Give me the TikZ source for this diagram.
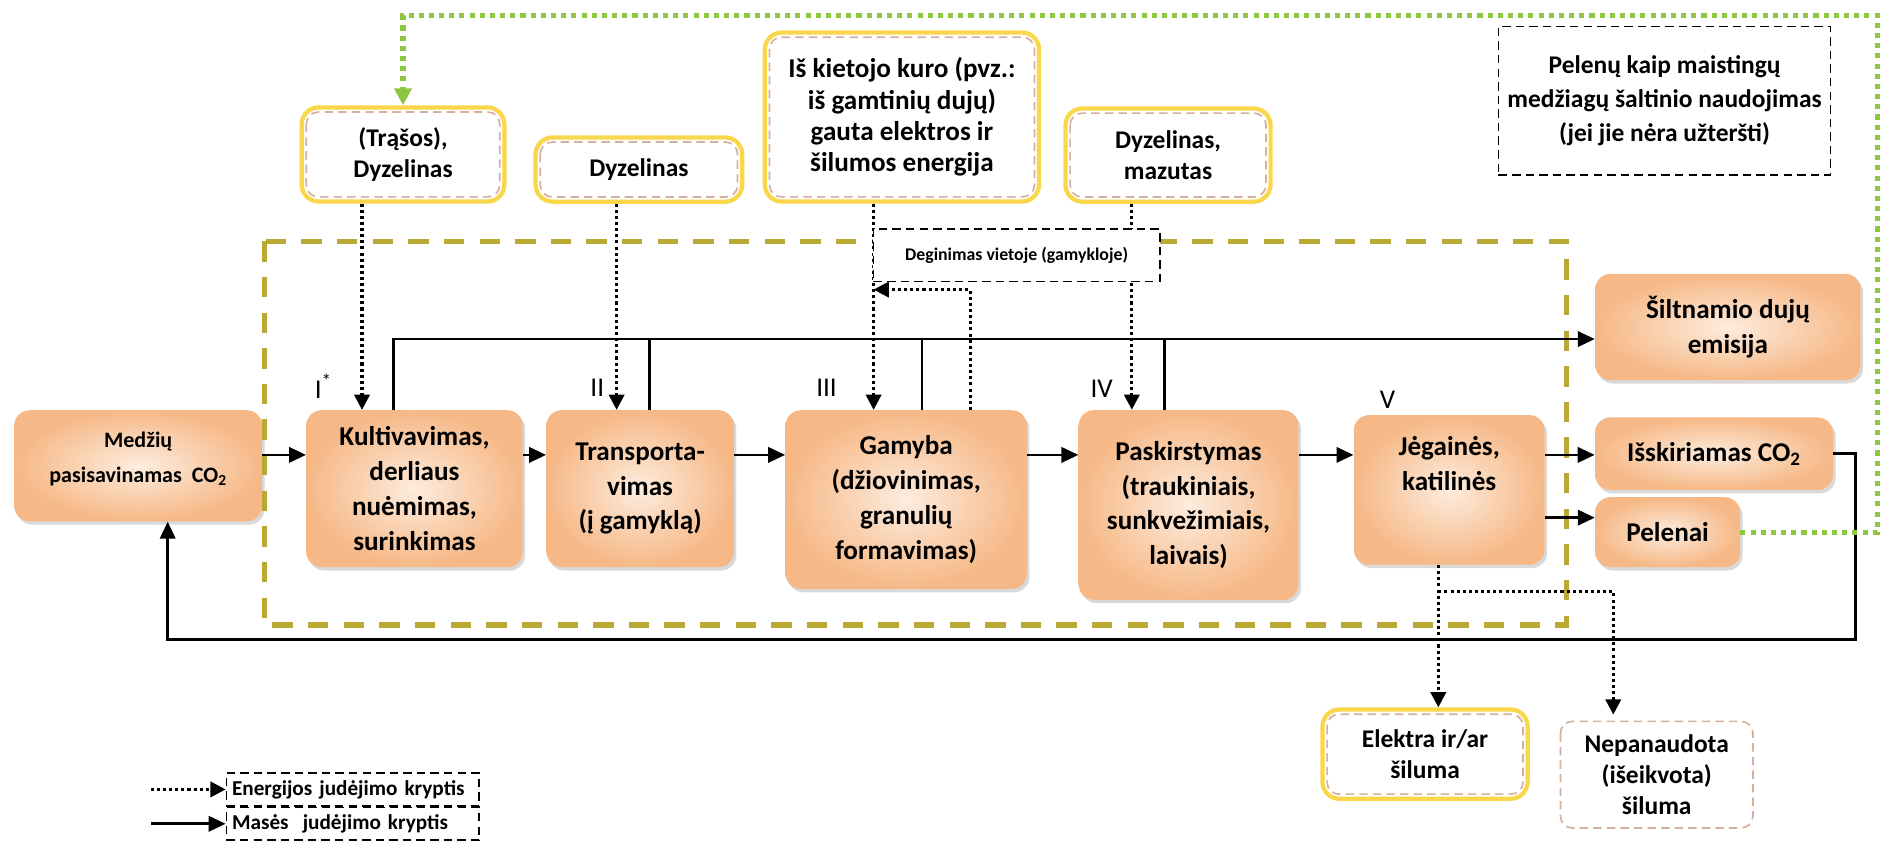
\documentclass[tikz,border=0pt]{standalone}
\usepackage{fontspec}
\setmainfont{Carlito}
\usetikzlibrary{arrows.meta, shadows, calc}
\definecolor{boxdark}{RGB}{246, 184, 134}
\definecolor{boxlight}{RGB}{253, 236, 222}
\definecolor{srcyellow}{RGB}{250, 214, 74}
\definecolor{rimtan}{RGB}{214, 176, 158}
\definecolor{frameolive}{RGB}{186, 168, 52}
\definecolor{ashgreen}{RGB}{141, 198, 63}

\begin{document}
\begin{tikzpicture}[x=0.025cm, y=-0.025cm,
  proc/.style={rectangle, rounded corners=9pt, inner color=boxlight, outer color=boxdark,
               drop shadow={shadow xshift=1.5pt, shadow yshift=-2pt, opacity=0.3},
               align=center, font=\fontsize{16}{20.5}\selectfont\bfseries},
  src/.style={rectangle, rounded corners=10pt, draw=srcyellow, line width=2.5pt, fill=white,
              align=center, font=\fontsize{15}{18}\selectfont\bfseries},
  note/.style={rectangle, draw=black, dash pattern=on 5pt off 3pt, line width=0.9pt,
               fill=white, align=center},
  rim/.style={draw=rimtan, dash pattern=on 5pt off 3pt, line width=1pt, rounded corners=7pt},
  stage/.style={font=\fontsize{16}{19}\selectfont},
  mass/.style={line width=1.6pt, -{Triangle[length=10pt, width=9pt]}},
  link/.style={line width=1.6pt},
  energy/.style={line width=1.8pt, dash pattern=on 1.8pt off 1.8pt,
                 -{Triangle[length=9pt, width=9pt]}},
  ash/.style={ashgreen, line width=3pt, dash pattern=on 3pt off 3pt,
              -{Triangle[length=10pt, width=10pt]}},
  frame/.style={frameolive, line width=3pt, dash pattern=on 12pt off 9pt}
]
  \useasboundingbox (0,0) rectangle (1568,704);

  % helper coordinates
  \coordinate (row) at (0,377);
  \coordinate (prow) at (0,429);
  \coordinate (bus) at (0,281);
  \coordinate (up1) at (326,0);
  \coordinate (up2) at (538,0);
  \coordinate (up3) at (764,0);
  \coordinate (up4) at (965,0);
  \coordinate (d1) at (300,0);
  \coordinate (d2) at (511,0);
  \coordinate (d3) at (724,0);
  \coordinate (d4) at (938,0);
  \coordinate (bk) at (804,240);
  \coordinate (split) at (1192,490);
  \coordinate (nd) at (1337,0);
  \coordinate (ret) at (1538,530);
  \coordinate (retl) at (139,530);
  \coordinate (gr) at (1556,13);
  \coordinate (k0) at (125,0);

  % process chain
  \node[proc, minimum width=5.13cm, minimum height=2.3cm, text depth=0.35cm,
        font=\fontsize{13}{21}\selectfont\bfseries]
    (med) at (114.5,386) {Medžių\\pasisavinamas\ \ CO\textsubscript{2}};
  \node[proc, minimum width=4.48cm, minimum height=3.25cm] (kul) at (343.5,405)
    {Kultivavimas,\\derliaus\\nuėmimas,\\surinkimas};
  \node[proc, minimum width=3.88cm, minimum height=3.25cm] (tra) at (530.5,405)
    {Transporta-\\vimas\\(į gamyklą)};
  \node[proc, minimum width=5cm, minimum height=3.7cm] (gam) at (751,414)
    {Gamyba\\(džiovinimas,\\granulių\\formavimas)};
  \node[proc, minimum width=4.55cm, minimum height=3.93cm] (pas) at (985,418.5)
    {Paskirstymas\\(traukiniais,\\sunkvežimiais,\\laivais)};
  \node[proc, minimum width=3.95cm, minimum height=3.1cm, text depth=1.1cm] (jeg) at (1201,406)
    {Jėgainės,\\katilinės};
  \node[proc, minimum width=5.5cm, minimum height=2.2cm] (sil) at (1432,271)
    {Šiltnamio dujų\\emisija};
  \node[proc, minimum width=4.93cm, minimum height=1.5cm] (isk) at (1420.5,376)
    {Išskiriamas CO\textsubscript{2}};
  \node[proc, minimum width=3cm, minimum height=1.45cm] (pel) at (1382,441) {Pelenai};

  % stage numbers
  \node[stage] (s1) at (268,320) {I\textsuperscript{*}};
  \node[stage] (s2) at (495,321) {II};
  \node[stage] (s3) at (685,321) {III};
  \node[stage] (s4) at (913,322) {IV};
  \node[stage] (s5) at (1150,331) {V};

  % energy sources
  \node[src, minimum width=4.2cm, minimum height=1.95cm] (t1) at (334,128) {(Trąšos),\\Dyzelinas};
  \node[src, minimum width=4.28cm, minimum height=1.33cm] (t2) at (529.5,140.5) {Dyzelinas};
  \node[src, minimum width=5.68cm, minimum height=3.5cm, font=\fontsize{16}{18.5}\selectfont\bfseries]
    (t3) at (747.5,97) {Iš kietojo kuro (pvz.:\\iš gamtinių dujų)\\gauta elektros ir\\šilumos energija};
  \node[src, minimum width=4.25cm, minimum height=1.93cm] (t4) at (968,128.5) {Dyzelinas,\\mazutas};
  \node[src, minimum width=4.25cm, minimum height=1.85cm] (el) at (1181,625) {Elektra ir/ar\\šiluma};
  \node[src, draw=none, minimum width=4.18cm, minimum height=2.4cm] (np) at (1373,642)
    {Nepanaudota\\(išeikvota)\\šiluma};
  \foreach \n in {t1,t2,t3,t4,el,np}
    \draw[rim] ([shift={(4pt,-4pt)}]\n.north west) rectangle ([shift={(-4pt,4pt)}]\n.south east);

  \node[note, minimum width=6.88cm, minimum height=3.08cm, font=\fontsize{15}{20}\selectfont\bfseries]
    (pu) at (1379.5,83.5) {Pelenų kaip maistingų\\medžiagų šaltinio naudojimas\\(jei jie nėra užteršti)};

  % system boundary
  \draw[frame] (219,200) rectangle (1298,518);

  % mass flows
  \foreach \a/\b in {med/kul, kul/tra, tra/gam, gam/pas, pas/jeg, jeg/isk}
    \draw[mass] (\a.east |- row) -- (\b.west |- row);
  \draw[mass] (jeg.east |- prow) -- (pel.west |- prow);
  \draw[mass] (kul.north -| up1) |- (bus -| sil.west);
  \foreach \p/\q in {tra/up2, gam/up3, pas/up4}
    \draw[link] (\p.north -| \q) -- (bus -| \q);
  \draw[mass] (isk.east) -| (ret) -- (retl) -- (retl |- med.south);

  % energy flows
  \foreach \s/\b/\d in {t1/kul/d1, t2/tra/d2, t3/gam/d3, t4/pas/d4}
    \draw[energy] (\s.south -| \d) -- (\b.north -| \d);
  \draw[energy] (gam.north -| bk) -- (bk) -- (bk -| d3);
  \draw[energy] (jeg.south -| split) -- (el.north -| split);
  \draw[energy] (split) -| (np.north -| nd);
  \draw[ash] (pel.east) -| (gr) -- (gr -| t1.north) -- (t1.north);

  \node[note, minimum width=5.93cm, minimum height=1.08cm, font=\fontsize{10.5}{12}\selectfont\bfseries]
    (deg) at (842.5,211.5) {Deginimas vietoje (gamykloje)};

  % legend
  \node[note, text width=5.0cm, minimum height=0.68cm, align=left, anchor=north west,
        font=\fontsize{12.5}{15}\selectfont\bfseries] (le) at (187,640) {Energijos judėjimo kryptis};
  \node[note, text width=5.0cm, minimum height=0.68cm, align=left, anchor=north west,
        font=\fontsize{12.5}{15}\selectfont\bfseries] (lm) at (le.south west) {Masės\ \ judėjimo kryptis};
  \draw[energy] (le.west -| k0) -- (le.west);
  \draw[mass] (lm.west -| k0) -- (lm.west);
\end{tikzpicture}
\end{document}
